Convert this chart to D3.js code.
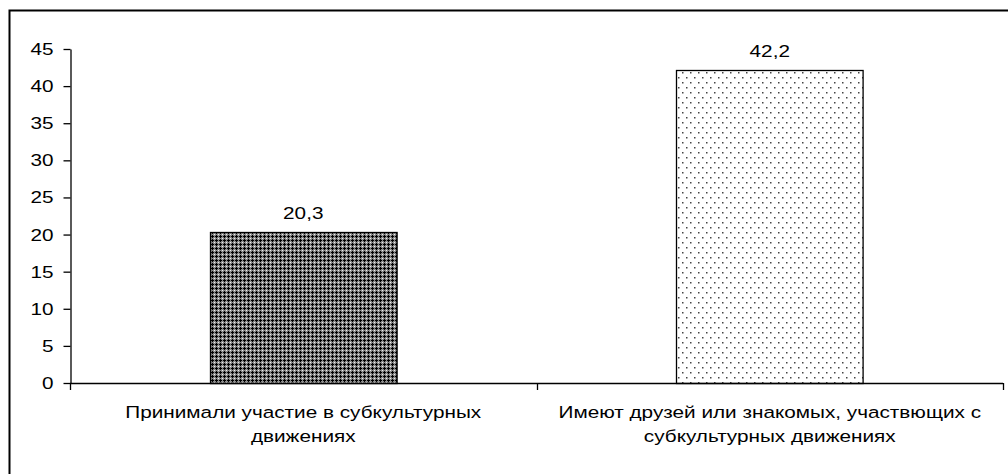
<!DOCTYPE html>
<html>
<head>
<meta charset="utf-8">
<script src="https://cdn.jsdelivr.net/npm/d3@7"></script>
<style>
  html, body { margin: 0; padding: 0; background: #fff; }
  svg { display: block; font-family: "Liberation Sans", Arial, sans-serif; }
</style>
</head>
<body>
<svg id="chart" width="1008" height="474"></svg>
<script>
// Survey results: share of respondents (%)
const categories = [
  ["Принимали участие в субкультурных", "движениях"],
  ["Имеют друзей или знакомых, участвющих с", "субкультурных движениях"]
];
const values = [20.3, 42.2];
const valueLabels = ["20,3", "42,2"];
const yTicks = [0, 5, 10, 15, 20, 25, 30, 35, 40, 45];
const fills = ["url(#crossHatch)", "url(#dots)"];

const svg = d3.select("#chart");
const W = 1008, H = 474;
const plot = { left: 70, right: 1003, top: 49, bottom: 383 };
const FONT = 17, STRETCH = 1.22;   // text is drawn slightly widened

// Patterns for the two bars
const defs = svg.append("defs");
const ch = defs.append("pattern").attr("id", "crossHatch")
  .attr("patternUnits", "userSpaceOnUse").attr("width", 4).attr("height", 4);
ch.append("rect").attr("width", 4).attr("height", 4).attr("fill", "#8a8a8a");
[[0,0],[1,0],[3,0],[0,1],[0,3]].forEach(([px, py]) =>
  ch.append("rect").attr("x", px).attr("y", py).attr("width", 1).attr("height", 1).attr("fill", "#000"));
ch.append("rect").attr("x", 2).attr("y", 2).attr("width", 1).attr("height", 1).attr("fill", "#f0f0f0");

const dp = defs.append("pattern").attr("id", "dots")
  .attr("patternUnits", "userSpaceOnUse").attr("width", 8).attr("height", 10);
dp.append("rect").attr("width", 8).attr("height", 10).attr("fill", "#fff");
dp.append("rect").attr("x", 2).attr("y", 2).attr("width", 1.5).attr("height", 1.5).attr("fill", "#444");
dp.append("rect").attr("x", 6).attr("y", 7).attr("width", 1.5).attr("height", 1.5).attr("fill", "#444");

// Outer frame (runs past the right and bottom edges)
svg.append("rect")
  .attr("x", 9.5).attr("y", 10.5)
  .attr("width", W).attr("height", H)
  .attr("fill", "none").attr("stroke", "#000").attr("stroke-width", 2);

const x = d3.scaleBand()
  .domain(d3.range(categories.length))
  .range([plot.left, plot.right])
  .paddingInner(0.6).paddingOuter(0.3);

const y = d3.scaleLinear().domain([0, 45]).range([plot.bottom, plot.top]);

// Widened text helper: place at (tx, ty), stretch horizontally
const stretchAt = (tx, ty) => `translate(${tx},${ty}) scale(${STRETCH},1)`;

// Y axis
const yAxis = svg.append("g")
  .attr("transform", `translate(${plot.left + 0.5},0)`)
  .call(d3.axisLeft(y).tickValues(yTicks).tickSize(7).tickSizeOuter(0).tickPadding(10));
yAxis.select(".domain").attr("stroke", "#000").attr("stroke-width", 1.3);
yAxis.selectAll(".tick line").attr("stroke", "#000").attr("stroke-width", 1.3);
yAxis.selectAll(".tick text")
  .attr("font-size", FONT).attr("fill", "#000")
  .attr("font-family", "Liberation Sans, Arial, sans-serif")
  .each(function() {
    const t = d3.select(this);
    const tx = +t.attr("x");
    t.attr("x", null).attr("transform", stretchAt(tx, 0));
  });

// Bars
svg.selectAll("rect.bar").data(values).join("rect")
  .attr("class", "bar")
  .attr("x", (d, i) => Math.round(x(i)) + 0.5)
  .attr("y", d => Math.round(y(d)) + 0.5)
  .attr("width", x.bandwidth())
  .attr("height", d => Math.round(y(0)) - Math.round(y(d)))
  .attr("fill", (d, i) => fills[i])
  .attr("stroke", "#000").attr("stroke-width", 1.3);

// Value labels
svg.selectAll("text.val").data(values).join("text")
  .attr("class", "val")
  .attr("transform", (d, i) => stretchAt(x(i) + x.bandwidth() / 2, y(d) - 13))
  .attr("text-anchor", "middle")
  .attr("font-size", FONT).attr("fill", "#000")
  .text((d, i) => valueLabels[i]);

// X axis line with ticks at category boundaries
const boundaries = d3.range(categories.length + 1)
  .map(i => plot.left + i * (plot.right - plot.left) / categories.length);
svg.append("line")
  .attr("x1", plot.left).attr("x2", plot.right)
  .attr("y1", y(0) + 0.5).attr("y2", y(0) + 0.5)
  .attr("stroke", "#000").attr("stroke-width", 1.3);
svg.selectAll("line.xtick").data(boundaries).join("line")
  .attr("class", "xtick")
  .attr("x1", d => Math.round(d) + 0.5).attr("x2", d => Math.round(d) + 0.5)
  .attr("y1", y(0)).attr("y2", y(0) + 7)
  .attr("stroke", "#000").attr("stroke-width", 1.3);

// Category labels (two lines each)
categories.forEach((lines, i) => {
  lines.forEach((ln, k) => {
    svg.append("text")
      .attr("class", "cat")
      .attr("transform", stretchAt(x(i) + x.bandwidth() / 2, 418 + k * 24))
      .attr("text-anchor", "middle")
      .attr("font-size", FONT).attr("fill", "#000")
      .text(ln);
  });
});
</script>
</body>
</html>
